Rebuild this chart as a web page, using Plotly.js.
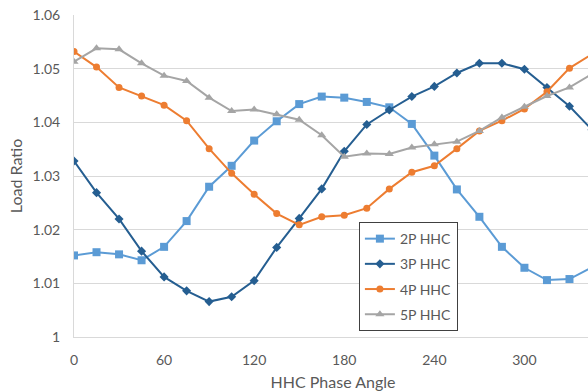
<!DOCTYPE html>
<html>
<head>
<meta charset="utf-8">
<script src="https://cdn.plot.ly/plotly-3.0.1.min.js"></script>
<style>
html,body{margin:0;padding:0;overflow:hidden;background:#fff;}
#chart{width:600px;height:392px;}
</style>
</head>
<body>
<div id="chart"></div>
<script>
const angles = [0,15,30,45,60,75,90,105,120,135,150,165,180,195,210,225,240,255,270,285,300,315,330,345];
const hhc2P = [1.0152,1.0158,1.0154,1.0143,1.0168,1.0216,1.0280,1.0319,1.0366,1.0402,1.0434,1.0448,1.0446,1.0438,1.0428,1.0397,1.0338,1.0275,1.0224,1.0168,1.0129,1.0106,1.0108,1.0130];
const hhc3P = [1.0328,1.0269,1.0220,1.0160,1.0112,1.0086,1.0066,1.0075,1.0105,1.0167,1.0221,1.0276,1.0346,1.0396,1.0423,1.0448,1.0467,1.0492,1.0510,1.0510,1.0499,1.0465,1.0430,1.0386];
const hhc4P = [1.0532,1.0503,1.0465,1.0449,1.0432,1.0403,1.0351,1.0305,1.0266,1.0230,1.0209,1.0224,1.0227,1.0240,1.0276,1.0307,1.0319,1.0351,1.0384,1.0403,1.0425,1.0457,1.0501,1.0527];
const hhc5P = [1.0513,1.0538,1.0536,1.0510,1.0487,1.0477,1.0446,1.0421,1.0424,1.0415,1.0405,1.0376,1.0336,1.0342,1.0341,1.0353,1.0359,1.0364,1.0384,1.0409,1.0429,1.0449,1.0465,1.0490];
const seriesNames = ['2P HHC','3P HHC','4P HHC','5P HHC'];
const xTicks = [0,60,120,180,240,300];
const yTicks = [1,1.01,1.02,1.03,1.04,1.05,1.06];
const yTickText = ['1','1.01','1.02','1.03','1.04','1.05','1.06'];

const colors = ['#5B9BD5','#255E91','#ED7D31','#A5A5A5'];
const symbols = ['square','diamond','circle','triangle-up'];
const msizes = [8,7,7,8];
const data = [hhc2P,hhc3P,hhc4P,hhc5P].map((ys,i)=>({
  x: angles, y: ys, name: seriesNames[i], type:'scatter', mode:'lines+markers',
  legendgroup: 'g'+i,
  line:{color:colors[i], width:2},
  marker:{color:colors[i], symbol:symbols[i], size:msizes[i]},
  cliponaxis: true
}));

const font = {family:'Lato, "Open Sans", sans-serif', color:'#595959'};
const layout = {
  width:600, height:392,
  margin:{l:74, r:7.5, t:15, b:55},
  paper_bgcolor:'#fff', plot_bgcolor:'#fff',
  font: Object.assign({size:14}, font),
  showlegend:true,
  legend:{x:0.55, y:0.357, xanchor:'left', yanchor:'top',
    bgcolor:'#fff', bordercolor:'#404040', borderwidth:1,
    font:Object.assign({size:14}, font), tracegroupgap:4,
    itemwidth:30},
  xaxis:{range:[0,345], tickvals:xTicks, ticktext:xTicks.map(String),
    showgrid:false, zeroline:false, showline:true, linecolor:'#d9d9d9', linewidth:1,
    ticks:'', ticklabelstandoff:10, tickfont:Object.assign({size:14}, font),
    title:{text:'HHC Phase Angle', font:Object.assign({size:16}, font), standoff:10}},
  yaxis:{range:[1,1.06], tickvals:yTicks, ticktext:yTickText,
    showgrid:true, gridcolor:'#d9d9d9', gridwidth:1, zeroline:false,
    showline:true, linecolor:'#d9d9d9', linewidth:1,
    ticks:'', ticklabelstandoff:10, tickfont:Object.assign({size:14}, font),
    title:{text:'Load Ratio', font:Object.assign({size:16}, font), standoff:5}}
};
Plotly.newPlot('chart', data, layout, {displayModeBar:false, staticPlot:true});
</script>
</body>
</html>
